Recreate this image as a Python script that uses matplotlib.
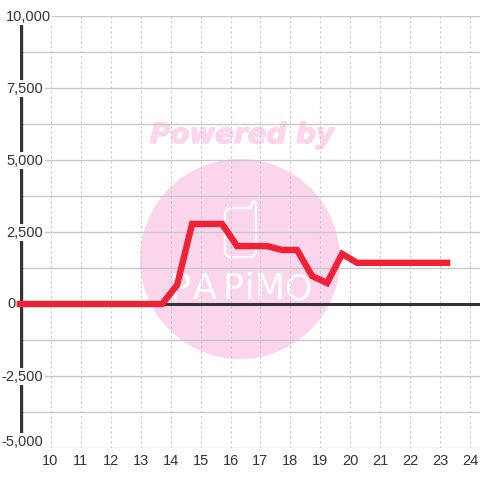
import matplotlib
matplotlib.use("Agg")
import matplotlib.pyplot as plt
import matplotlib.patheffects as pe
from matplotlib.patches import Circle

hours = [8.98, 13.72, 14.22, 14.72, 15.72, 16.22, 17.22, 17.72, 18.22, 18.72, 19.22, 19.72, 20.22, 23.22]
values = [0, 0, 660, 2780, 2780, 2010, 2010, 1875, 1875, 970, 730, 1740, 1430, 1430]

x_ticks = list(range(10, 25))
y_labels = ["10,000", "7,500", "5,000", "2,500", "0", "-2,500", "-5,000"]
y_label_pos = [10.0, 9.75, 9.75, 9.75, 8.85, 9.75, 9.75]
y_label_at = [9980, 7480, 4980, 2480, 0, -2520, -4780]
y_grid = [-5000, -3750, -2500, -1250, 0, 1250, 2500, 3750, 5000, 6250, 7500, 8750, 10000]

TEXT = "#333333"
GRID = "#c8c8c8"
PINK = "#fbd5ec"
RED = "#f02035"
FONT = "Liberation Sans"

fig = plt.figure(figsize=(4.8, 4.8), dpi=100)

# watermark sits behind everything, drawn in pixel coordinates
bg = fig.add_axes([0, 0, 1, 1], zorder=0)
bg.set_xlim(0, 480)
bg.set_ylim(480, 0)
bg.axis("off")
bg.add_patch(Circle((240, 259), 100, color=PINK, lw=0))
bg.text(242, 135, "Powered by", color=PINK, fontsize=20, fontweight="bold", fontstyle="italic",
        family="DejaVu Sans", ha="center", va="center",
        path_effects=[pe.withStroke(linewidth=1, foreground=PINK)])
bg.plot([225, 225, 229, 251, 252, 254, 256, 256, 252, 229, 225, 225],
        [212, 212, 208, 208, 203, 201, 203, 253, 257, 257, 253, 212], color="white", lw=1.6)
for letter, lx in zip("PAPiMO", [180, 205, 233, 250, 270, 299]):
    bg.text(lx, 289, letter, color="white", fontsize=25, family="Liberation Sans Narrow",
            ha="center", va="center")

ax = fig.add_axes([20 / 480, 32 / 480, 460 / 480, 432 / 480], zorder=1)
ax.patch.set_alpha(0)
ax.set_xlim(8.983, 24.317)
ax.set_ylim(-5000, 10000)
for s in ax.spines.values():
    s.set_visible(False)

ax.set_xticks(x_ticks)
ax.set_xticklabels([str(t) for t in x_ticks], fontsize=10.5, color=TEXT, family=FONT)
ax.tick_params(axis="x", length=0, pad=4)
ax.set_yticks([])

ax.vlines(x_ticks, -5000, 10000, color=GRID, lw=0.8, linestyles=(0, (2, 2.5)), zorder=1)
ax.hlines(y_grid, 8.983, 24.317, color=GRID, lw=1, zorder=1)
ax.axhline(0, color=TEXT, lw=2.2, zorder=2)
ax.axvline(9.0, color=TEXT, lw=2.4, zorder=2)

# labels have a white box that cuts the axis and the grid lines
for lab, lx, ly in zip(y_labels, y_label_pos, y_label_at):
    ax.text(lx, ly, lab, clip_on=False, ha="right", va="center", fontsize=10.5,
            color=TEXT, family=FONT, zorder=3,
            bbox=dict(fc="white", ec="none", pad=1.2))

# red line goes over the labels
ax.plot(hours, values, color=RED, lw=4.6, solid_joinstyle="miter", solid_capstyle="projecting",
        clip_on=False, zorder=4)

fig.savefig("out.png", dpi=100)
